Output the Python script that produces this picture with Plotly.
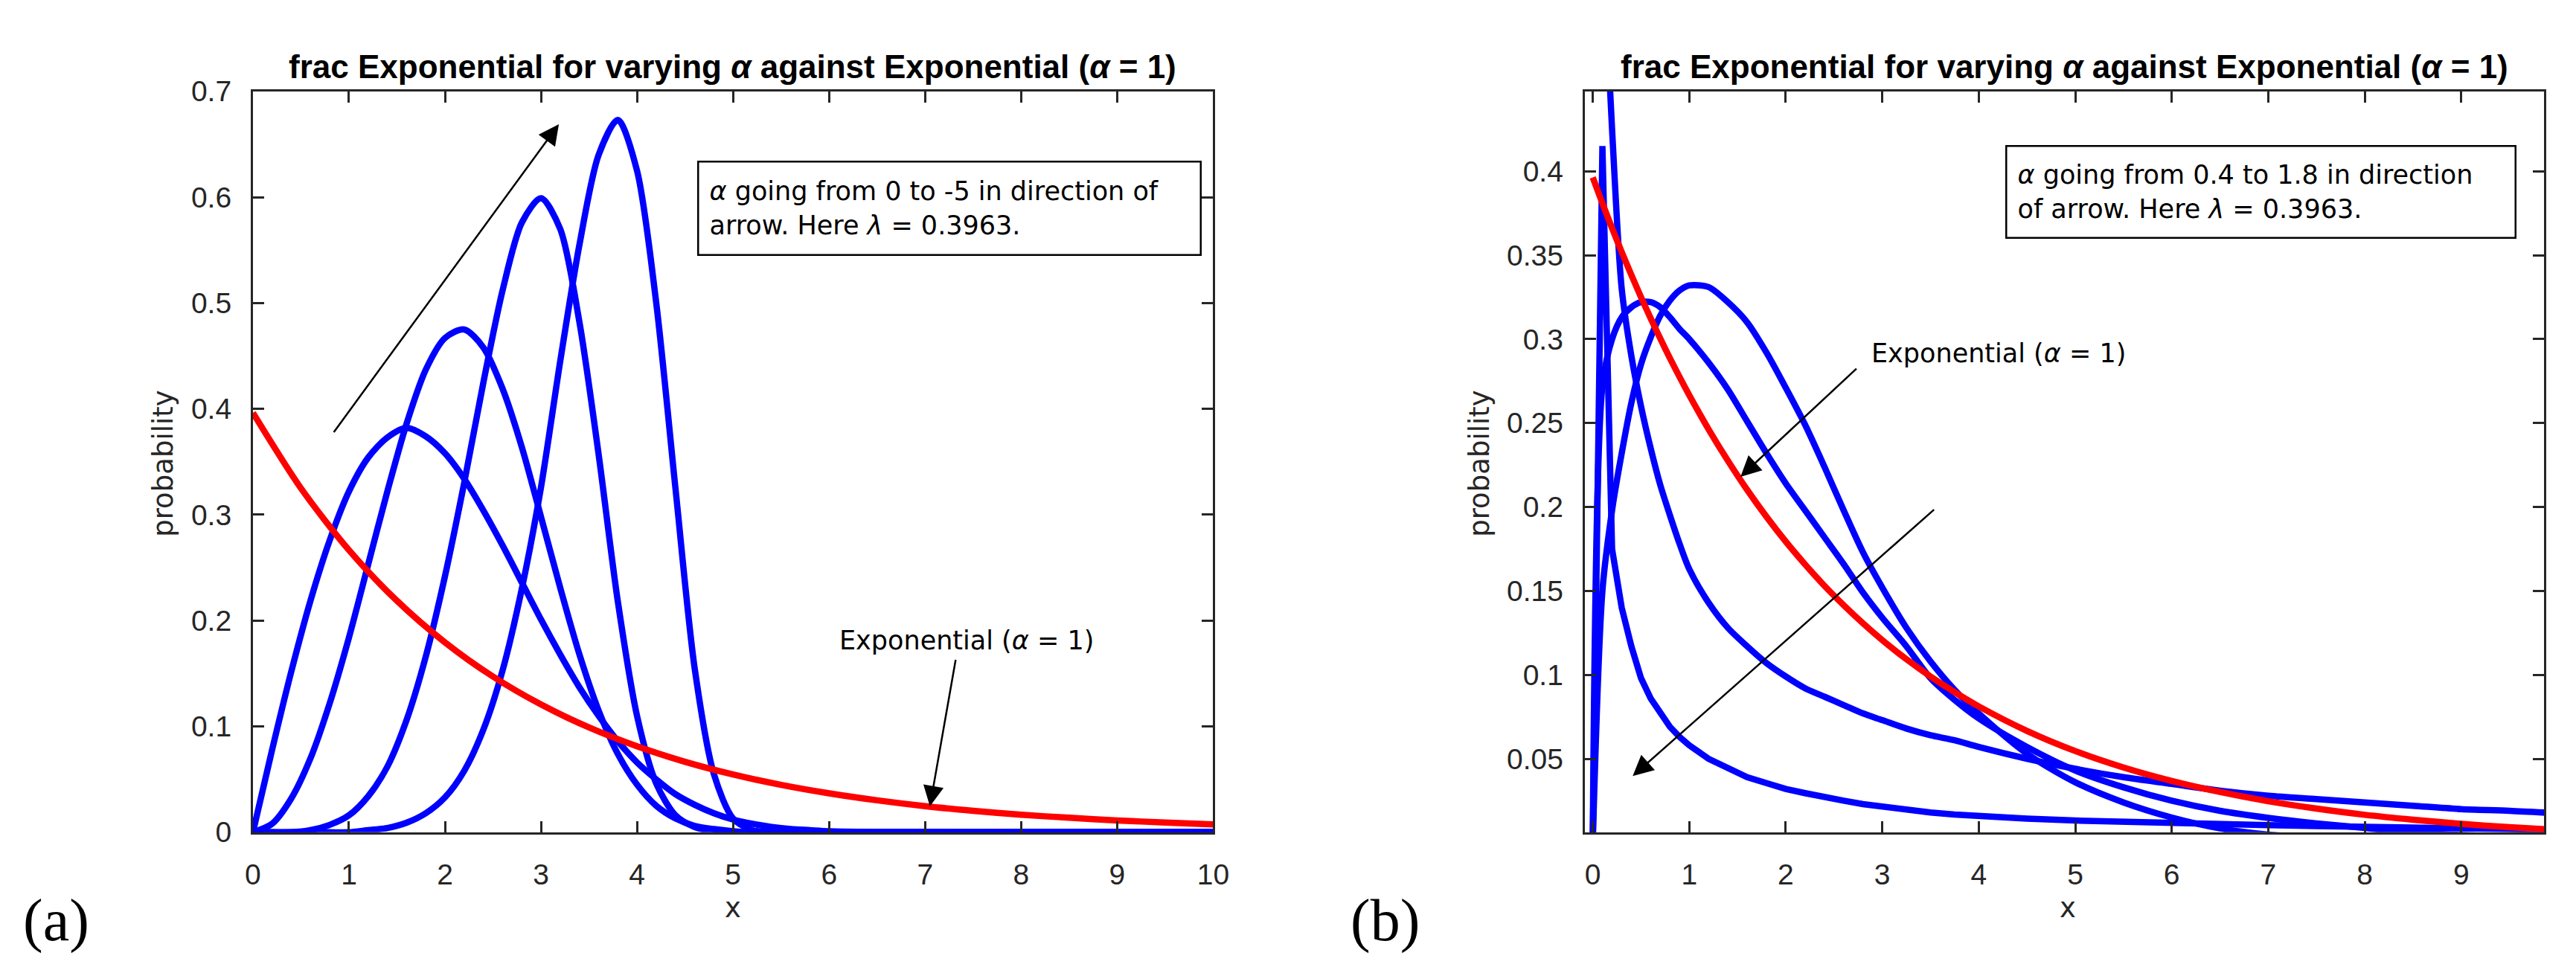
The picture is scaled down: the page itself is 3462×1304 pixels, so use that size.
import plotly.graph_objects as go

# ---- data ----
# (a) left panel: alpha from 0 to -5, lambda = 0.3963
xa = [0, 0.2, 0.4, 0.6, 0.8, 1.0, 1.2, 1.4, 1.6, 1.8, 2.0, 2.2, 2.4, 2.6, 2.8, 3.0,
      3.2, 3.4, 3.6, 3.8, 4.0, 4.2, 4.4, 4.6, 4.8, 5.0, 5.2, 5.4, 5.6, 5.8, 6.0,
      7, 8, 9, 10]
blue_a1 = [0, 0.078, 0.152, 0.219, 0.276, 0.322, 0.354, 0.373, 0.382, 0.374, 0.358, 0.334,
           0.304, 0.271, 0.236, 0.201, 0.168, 0.137, 0.110, 0.086, 0.066, 0.050, 0.036,
           0.026, 0.018, 0.012, 0.008, 0.005, 0.003, 0.002, 0.001, 0, 0, 0, 0]
blue_a2 = [0, 0.008, 0.032, 0.070, 0.122, 0.184, 0.253, 0.322, 0.386, 0.437, 0.467, 0.475,
           0.458, 0.419, 0.364, 0.298, 0.231, 0.168, 0.115, 0.074, 0.045, 0.025, 0.013,
           0.006, 0.003, 0.001, 0, 0, 0, 0, 0, 0, 0, 0, 0]
blue_a3 = [0, 0, 0, 0.002, 0.007, 0.016, 0.034, 0.062, 0.106, 0.166, 0.242, 0.330,
           0.425, 0.512, 0.576, 0.599, 0.570, 0.482, 0.357, 0.218, 0.110, 0.046, 0.016,
           0.005, 0.001, 0, 0, 0, 0, 0, 0, 0, 0, 0, 0]
blue_a4 = [0, 0, 0, 0, 0, 0, 0.002, 0.004, 0.009, 0.018, 0.033, 0.058,
           0.097, 0.153, 0.230, 0.326, 0.445, 0.555, 0.640, 0.673, 0.625, 0.500, 0.325,
           0.155, 0.055, 0.013, 0.002, 0, 0, 0, 0, 0, 0, 0, 0]
xa_exp = [0, 0.5, 1.0, 1.5, 2.0, 2.5, 3.0, 3.5, 4.0, 4.5, 5.0, 5.5, 6.0, 6.5, 7.0,
          7.5, 8.0, 8.5, 9.0, 9.5, 10]
red_a = [0.3963, 0.3250, 0.2666, 0.2187, 0.1794, 0.1471, 0.1207, 0.0990, 0.0812, 0.0666,
         0.0546, 0.0448, 0.0368, 0.0302, 0.0247, 0.0203, 0.0166, 0.0137, 0.0112, 0.0092,
         0.0075]

# (b) right panel: alpha from 0.4 to 1.8, lambda = 0.3963
xb = [0, 0.1, 0.2, 0.3, 0.4, 0.5, 0.6, 0.7, 0.8, 0.9, 1.0, 1.2, 1.4, 1.6, 1.8, 2.0,
      2.2, 2.4, 2.6, 2.8, 3.0, 3.25, 3.5, 3.75, 4.0, 4.5, 5.0, 5.5, 6.0, 6.5, 7.0,
      7.5, 8.0, 8.5, 9.0, 9.5, 10]
blue_b1 = [None, 0.540, 0.425, 0.330, 0.290, 0.260, 0.235, 0.213, 0.195, 0.178, 0.163,
           0.143, 0.128, 0.117, 0.107, 0.099, 0.092, 0.087, 0.082, 0.077, 0.073, 0.068,
           0.064, 0.061, 0.057, 0.050, 0.044, 0.039, 0.035, 0.031, 0.028, 0.026, 0.024,
           0.022, 0.020, 0.019, 0.0175]
blue_b2 = [0, 0.415, 0.175, 0.140, 0.117, 0.098, 0.086, 0.077, 0.069, 0.063, 0.058,
           0.050, 0.044, 0.039, 0.0355, 0.032, 0.0295, 0.027, 0.025, 0.023, 0.0215, 0.0195,
           0.0180, 0.0168, 0.0158, 0.0143, 0.0132, 0.0123, 0.0116, 0.0110, 0.0105, 0.0099,
           0.0094, 0.0089, 0.0085, 0.0081, 0.0077]
blue_b3 = [0, 0.272, 0.300, 0.313, 0.319, 0.322, 0.322, 0.319, 0.313, 0.306, 0.300,
           0.286, 0.270, 0.251, 0.232, 0.214, 0.198, 0.182, 0.166, 0.149, 0.134, 0.117,
           0.098, 0.085, 0.074, 0.057, 0.043, 0.033, 0.025, 0.019, 0.0148, 0.0115, 0.0088,
           0.0060, 0.0046, 0.0036, 0.0030]
blue_b4 = [0, 0.150, 0.198, 0.232, 0.262, 0.285, 0.301, 0.314, 0.323, 0.329, 0.332,
           0.331, 0.322, 0.310, 0.292, 0.271, 0.249, 0.224, 0.198, 0.173, 0.152, 0.128,
           0.108, 0.091, 0.077, 0.053, 0.036, 0.024, 0.0150, 0.0085, 0.0048, 0.0030, 0.0020,
           0.0014, 0.0010, 0.0007, 0.0005]
red_b = [0.3963, 0.3809, 0.3661, 0.3519, 0.3382, 0.3250, 0.3124, 0.3003, 0.2886, 0.2774,
         0.2666, 0.2463, 0.2276, 0.2102, 0.1942, 0.1794, 0.1658, 0.1531, 0.1415, 0.1307,
         0.1207, 0.1093, 0.0990, 0.0897, 0.0812, 0.0666, 0.0546, 0.0448, 0.0368, 0.0302,
         0.0247, 0.0203, 0.0166, 0.0137, 0.0112, 0.0092, 0.0075]

# tick labels
xticks_a = [0, 1, 2, 3, 4, 5, 6, 7, 8, 9, 10]
yticks_a = [0, 0.1, 0.2, 0.3, 0.4, 0.5, 0.6, 0.7]
yticklabels_a = ["0", "0.1", "0.2", "0.3", "0.4", "0.5", "0.6", "0.7"]
xticks_b = [0, 1, 2, 3, 4, 5, 6, 7, 8, 9]
yticks_b = [0.05, 0.1, 0.15, 0.2, 0.25, 0.3, 0.35, 0.4]
yticklabels_b = ["0.05", "0.1", "0.15", "0.2", "0.25", "0.3", "0.35", "0.4"]

title_text = "<b>frac Exponential for varying <i>α</i> against Exponential (<i>α</i> = 1)</b>"
box_a = "<i>α</i> going from 0 to -5 in direction of<br>arrow. Here <i>λ</i> = 0.3963."
box_b = "<i>α</i> going from 0.4 to 1.8 in direction<br>of arrow. Here <i>λ</i> = 0.3963."
exp_label = "Exponential (<i>α</i> = 1)"

# ---- page geometry (pixels) ----
W, H = 3462, 1304
FONT = "Liberation Sans, Arial, sans-serif"
WIDE = "DejaVu Sans, Verdana, sans-serif"
AX = "#262626"


def fx(p):
    return p / W


def fy(p):
    return 1 - p / H


fig = go.Figure()

blue = dict(color="#0000FF", width=8.5)
red = dict(color="#FF0000", width=8.5)
smooth = dict(shape="spline", smoothing=0.8)

for ys in [blue_a1, blue_a2, blue_a3, blue_a4]:
    fig.add_trace(go.Scatter(x=xa, y=ys, mode="lines", line=dict(**blue, **smooth),
                             xaxis="x", yaxis="y", hoverinfo="skip"))
fig.add_trace(go.Scatter(x=xa_exp, y=red_a, mode="lines", line=dict(**red, **smooth),
                         xaxis="x", yaxis="y", hoverinfo="skip"))

for ys in [blue_b1, blue_b3, blue_b4]:
    fig.add_trace(go.Scatter(x=xb, y=ys, mode="lines", line=dict(**blue, **smooth),
                             xaxis="x2", yaxis="y2", hoverinfo="skip"))
# the sharp spike is drawn with straight segments
fig.add_trace(go.Scatter(x=xb, y=blue_b2, mode="lines", line=blue,
                         xaxis="x2", yaxis="y2", hoverinfo="skip"))
fig.add_trace(go.Scatter(x=xb, y=red_b, mode="lines", line=dict(**red, **smooth),
                         xaxis="x2", yaxis="y2", hoverinfo="skip"))

axis_style = dict(showline=True, linecolor=AX, linewidth=3, mirror="ticks",
                  ticks="inside", ticklen=15, tickwidth=3, tickcolor=AX,
                  showgrid=False, zeroline=False,
                  tickfont=dict(family=FONT, size=39, color=AX))

ydom = [fy(1127), fy(97)]
fig.update_layout(
    width=W, height=H, margin=dict(l=0, r=0, t=0, b=0),
    paper_bgcolor="white", plot_bgcolor="white", showlegend=False,
    xaxis=dict(axis_style, domain=[fx(324), fx(1627)], range=[0, 10],
               tickvals=xticks_a, ticktext=[str(v) for v in xticks_a],
               ticklabelstandoff=20, anchor="y"),
    yaxis=dict(axis_style, domain=ydom, range=[0, 0.7],
               tickvals=yticks_a, ticktext=yticklabels_a,
               ticklabelstandoff=18, anchor="x"),
    xaxis2=dict(axis_style, domain=[fx(2131), fx(3433)], range=[-0.084, 9.86],
                tickvals=xticks_b, ticktext=[str(v) for v in xticks_b],
                ticklabelstandoff=20, anchor="y2"),
    yaxis2=dict(axis_style, domain=ydom, range=[0.0062, 0.4476],
                tickvals=yticks_b, ticktext=yticklabels_b,
                ticklabelstandoff=18, anchor="x2"),
)

ann = []
txt = dict(family=WIDE, size=35, color="black")

# titles
for cx in [975, 2782]:
    ann.append(dict(text=title_text, x=fx(cx), y=fy(63), xref="paper", yref="paper",
                    showarrow=False, xanchor="center", yanchor="middle",
                    font=dict(family=FONT, size=44, color="black")))

# axis labels
for cx in [975, 2787]:
    ann.append(dict(text="x", x=fx(cx), y=fy(1232), xref="paper", yref="paper",
                    showarrow=False, xanchor="center", yanchor="middle",
                    font=dict(family=WIDE, size=37, color=AX)))
for cx in [203, 1989]:
    ann.append(dict(text="probability", x=fx(cx), y=fy(615), xref="paper", yref="paper",
                    showarrow=False, textangle=-90, xanchor="center", yanchor="middle",
                    font=dict(family=WIDE, size=37, color=AX)))

# boxed notes
ann.append(dict(text=box_a, x=fx(927), y=fy(193), xref="paper", yref="paper",
                showarrow=False, xanchor="left", yanchor="top", align="left",
                width=645, height=95, borderpad=14, bordercolor="black", borderwidth=2.5,
                bgcolor="white", font=txt))
ann.append(dict(text=box_b, x=fx(2702), y=fy(172), xref="paper", yref="paper",
                showarrow=False, xanchor="left", yanchor="top", align="left",
                width=654, height=93, borderpad=14, bordercolor="black", borderwidth=2.5,
                bgcolor="white", font=txt))

# "Exponential" labels
ann.append(dict(text=exp_label, x=6.09, y=0.181, xref="x", yref="y", showarrow=False,
                xanchor="left", yanchor="middle", font=txt))
ann.append(dict(text=exp_label, x=2.87, y=0.2915, xref="x2", yref="y2", showarrow=False,
                xanchor="left", yanchor="middle", font=txt))

# arrows (head at x,y; tail at ax,ay)
arrows = [
    ("x", "y", 3.186, 0.669, 0.834, 0.377),
    ("x", "y", 7.05, 0.0245, 7.32, 0.164),
    ("x2", "y2", 0.414, 0.0397, 3.548, 0.199),
    ("x2", "y2", 1.531, 0.218, 2.744, 0.283),
]
for xr, yr, hx, hy, tx, ty in arrows:
    ann.append(dict(text="", x=hx, y=hy, ax=tx, ay=ty, xref=xr, yref=yr,
                    axref=xr, ayref=yr, showarrow=True, arrowhead=2, arrowsize=2.2,
                    arrowwidth=2.5, arrowcolor="black", standoff=0))

# panel letters
for cx, lab in [(57, "(a)"), (1860, "(b)")]:
    ann.append(dict(text=lab, x=fx(cx), y=fy(1250), xref="paper", yref="paper",
                    showarrow=False, xanchor="center", yanchor="middle",
                    font=dict(family="Liberation Serif, Times New Roman, serif", size=80,
                              color="black")))

fig.update_layout(annotations=ann)

fig.write_html("out.html")
